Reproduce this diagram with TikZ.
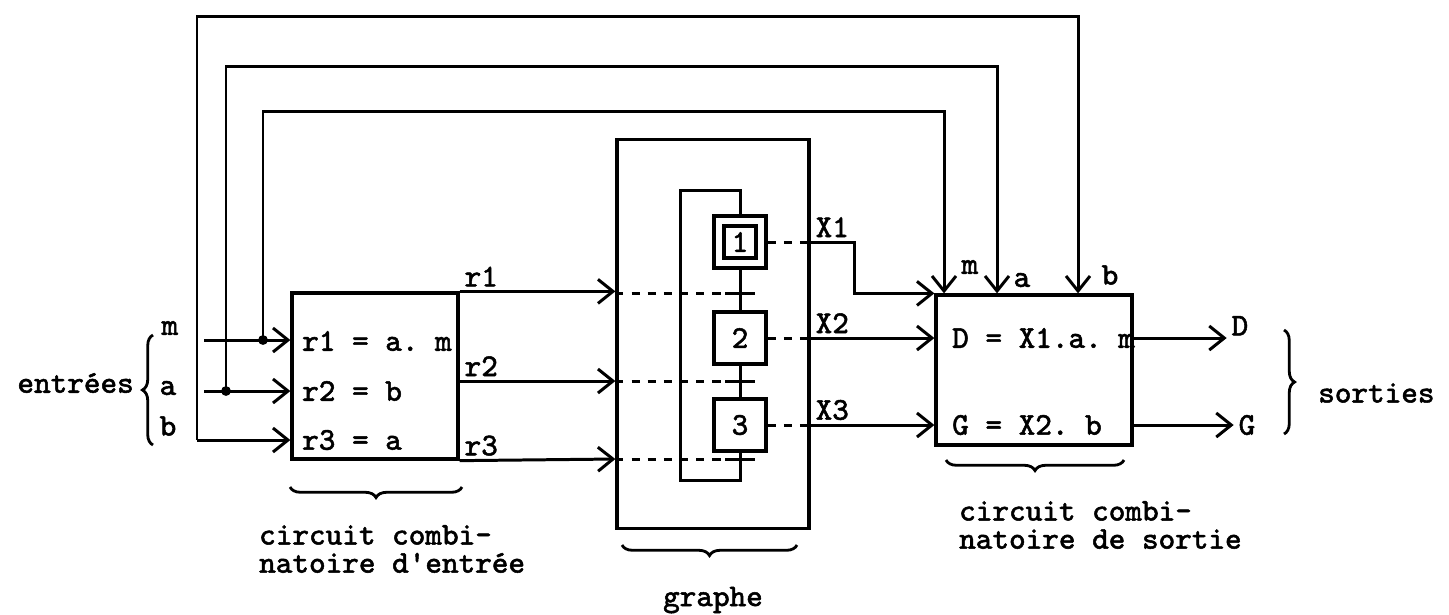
\documentclass[tikz,border=0pt]{standalone}
\usepackage{fontspec}
\setmonofont{Latin Modern Mono}[AutoFakeBold=1.6]
\usetikzlibrary{arrows.meta,positioning,decorations.pathreplacing}

\begin{document}
\begin{tikzpicture}[x=0.01cm, y=-0.01cm,
  every node/.style={font=\ttfamily\bfseries\fontsize{9}{8}\selectfont, inner sep=1pt},
  block/.style={draw, line width=0.9pt, inner sep=0pt},
  wire/.style={line width=0.85pt},
  arrow/.style={wire, -{Straight Barb[length=1.5mm, width=2.4mm]}},
  dline/.style={wire, dash pattern=on 2.3pt off 2.3pt},
  brc/.style={decorate, decoration={brace, amplitude=3pt}, line width=0.8pt},
  dot/.style={circle, fill, inner sep=0pt, minimum size=2.8pt}
]
\useasboundingbox (0,0) rectangle (1449,614);

% blocs
\node[block, minimum width=1.66cm, minimum height=1.66cm] (inbox) at (375,376) {};
\node[block, minimum width=1.92cm, minimum height=3.88cm] (graph) at (713,334) {};
\node[block, minimum width=1.96cm, minimum height=1.50cm] (outbox) at (1034,370) {};

\node[anchor=west] (eq1) at (298,341) {r1 = a. m};
\node[anchor=west] (eq2) at (298,391) {r2 = b};
\node[anchor=west] (eq3) at (298,440) {r3 = a};
\node[anchor=west] (eqD) at (948,338) {D = X1.a. m};
\node[anchor=west] (eqG) at (948,425) {G = X2. b};

% grafcet
\node[block, minimum size=0.52cm] (s1) at (740,242) {};
\node[block, minimum size=0.32cm] (s1in) at (740,242) {1};
\node[block, minimum size=0.52cm] (s2) at (740,338) {2};
\node[block, minimum size=0.52cm] (s3) at (740,425) {3};
\coordinate (t1) at (740,293);
\coordinate (t2) at (740,381);
\coordinate (t3) at (740,459);

\draw[wire] (s1) -- (s2);
\draw[wire] (s2) -- (s3);
\draw[wire] (s3.south) -- ++(0,28) -| (680,190) -| (s1.north);

% receptivites
\draw[arrow] (inbox.north east) node[above right] (lr1) {r1} -- (inbox.north east -| graph.west);
\draw[arrow] (inbox.east |- t2) node[above right] (lr2) {r2} -- (graph.west |- t2);
\draw[arrow] (inbox.south east) node[above right] (lr3) {r3} -- (graph.west |- t3);
\foreach \t in {t1,t2,t3} {
  \draw[dline] (graph.west |- \t) -- (\t);
  \draw[wire] (\t) +(-15,0) -- +(15,0);
}

% actions
\foreach \s in {s1,s2,s3}
  \draw[dline] (\s.east) -- (\s.east -| graph.east);
\draw[arrow] (s1.east -| graph.east) node[above right] (lx1) {X1} -- ++(44,0) |- (outbox.north west);
\draw[arrow] (s2.east -| graph.east) node[above right] (lx2) {X2} -- (s2.east -| outbox.west);
\draw[arrow] (s3.east -| graph.east) node[above right] (lx3) {X3} -- (s3.east -| outbox.west);

% sorties
\draw[arrow] (outbox.east |- s2) -- ++(93,0) node[right, yshift=3.5pt] (dout) {D};
\draw[arrow] (outbox.east |- s3) -- ++(100,0) node[right] (gout) {G};

% entrees et retours
\coordinate (min) at (204,340);
\coordinate (ain) at (204,391);
\coordinate (mj) at (263,340);
\coordinate (aj) at (226,391);
\coordinate (bj) at (197,440);
\coordinate (mtop) at (944,111);
\coordinate (atop) at (997,66);
\coordinate (btop) at (1078,16);
\draw[arrow] (min) -- (min -| inbox.west);
\draw[arrow] (ain) -- (ain -| inbox.west);
\draw[arrow] (bj) -- (bj -| inbox.west);
\draw[arrow] (mj) |- (mtop) -- (mtop |- outbox.north);
\draw[arrow] (aj) |- (atop) -- (atop |- outbox.north);
\draw[arrow] (bj) |- (btop) -- (btop |- outbox.north);
\node[dot] (mdot) at (mj) {};
\node[dot] (adot) at (aj) {};

\node (lm) at (970,267) {m};
\node (la) at (1022,280) {a};
\node (lb) at (1110,275) {b};

\node (im) at (170,328) {m};
\node (ia) at (168,388) {a};
\node (ib) at (168,426) {b};
\node[anchor=east] (entrees) at (138,383) {entrées};
\draw[brc] (153,445) -- (153,335);

\draw[brc] (1284,330) -- (1284,434);
\node[anchor=west] (sorties) at (1314,393) {sorties};

% accolades du bas
\draw[brc] (462,487) -- (290,487);
\node[anchor=west, align=left] (incap) at (255,549) {circuit combi-\\natoire d'entrée};
\draw[brc] (797,545) -- (622,545);
\node (gcap) at (713,600) {graphe};
\draw[brc] (1124,460) -- (946,460);
\node[anchor=west, align=left] (outcap) at (955,525) {circuit combi-\\natoire de sortie};
\end{tikzpicture}
\end{document}
